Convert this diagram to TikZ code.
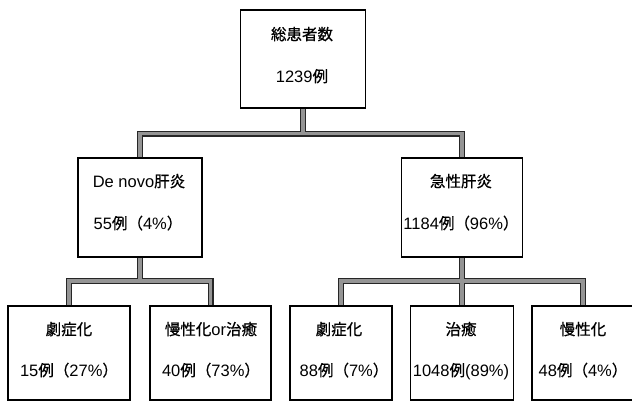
\documentclass[tikz,border=0pt]{standalone}
\usepackage{fontspec}
\setmainfont{Liberation Sans}
\newfontfamily\cjk[Scale=0.94,FakeBold=0.8]{Noto Sans CJK JP}
\usetikzlibrary{backgrounds}
\begin{document}
\begin{tikzpicture}[x=1pt,y=-1pt,
  box/.style={draw=black,line width=1.4pt,fill=white,rectangle,inner sep=0pt},
  lbl/.style={anchor=base,inner sep=0pt,font=\fontsize{16.5}{20}\selectfont},
  connout/.style={draw=black!85,line width=6pt,line join=miter},
  connin/.style={draw=black!42,line width=3.4pt,line join=miter}]
\useasboundingbox (0,0) rectangle (632,402);
\clip (0,0) rectangle (632,402);
% boxes
\node[box,minimum width=125pt,minimum height=98pt] (top) at (303,59) {};
\node[box,minimum width=124pt,minimum height=99pt] (denovo) at (140,207.5) {};
\node[box,minimum width=121pt,minimum height=99pt] (acute) at (462,207.5) {};
\node[box,minimum width=122pt,minimum height=94pt] (b1) at (69,353) {};
\node[box,minimum width=121pt,minimum height=94pt] (b2) at (210.5,353) {};
\node[box,minimum width=102pt,minimum height=94pt] (b3) at (341,353) {};
\node[box,minimum width=103pt,minimum height=94pt] (b4) at (462,353) {};
\node[box,minimum width=102pt,minimum height=94pt] (b5) at (583,353) {};
% texts
\node[lbl] (topa) at (302,40) {\cjk 総患者数};
\node[lbl] (topb) at (302,82) {1239{\cjk 例}};
\node[lbl] (denovoa) at (139,187) {De novo{\cjk 肝炎}};
\node[lbl] (denovob) at (138,229) {55{\cjk 例（}4\%{\cjk ）}};
\node[lbl] (acutea) at (461,187) {\cjk 急性肝炎};
\node[lbl] (acuteb) at (461,229) {1184{\cjk 例（}96\%{\cjk ）}};
\node[lbl] (b1a) at (69,335) {\cjk 劇症化};
\node[lbl] (b1b) at (69,376) {15{\cjk 例（}27\%{\cjk ）}};
\node[lbl] (b2a) at (211,335) {{\cjk 慢性化}or{\cjk 治癒}};
\node[lbl] (b2b) at (211,376) {40{\cjk 例（}73\%{\cjk ）}};
\node[lbl] (b3a) at (339,335) {\cjk 劇症化};
\node[lbl] (b3b) at (344,376) {88{\cjk 例（}7\%{\cjk ）}};
\node[lbl] (b4a) at (461,335) {\cjk 治癒};
\node[lbl] (b4b) at (461,376) {1048{\cjk 例}(89\%)};
\node[lbl] (b5a) at (583,335) {\cjk 慢性化};
\node[lbl] (b5b) at (583,376) {48{\cjk 例（}4\%{\cjk ）}};
% junctions
\coordinate (j1) at (303,133.5);
\coordinate (j2) at (140,281);
\coordinate (j3) at (462,281);
\newcommand{\myconns}[1]{%
  \draw[#1] (denovo.north) |- (j1) -| (acute.north);
  \draw[#1] (top.south) -- (j1);
  \draw[#1] (b1.north) |- (j2) -| (b2.north);
  \draw[#1] (denovo.south) -- (j2);
  \draw[#1] (b3.north) |- (j3) -| (b5.north);
  \draw[#1] (acute.south) -- (b4.north);
}
\begin{pgfonlayer}{background}
\myconns{connout}
\myconns{connin}
\end{pgfonlayer}
\end{tikzpicture}
\end{document}
